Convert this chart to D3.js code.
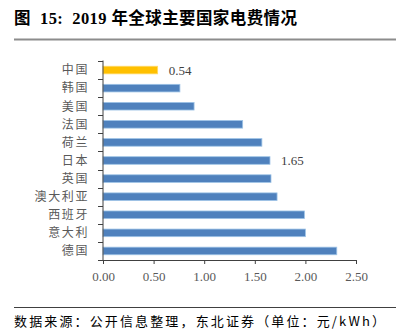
<!DOCTYPE html>
<html><head><meta charset="utf-8">
<script src="https://cdn.jsdelivr.net/npm/d3@7"></script>
<style>
body{margin:0;background:#fff;}
svg{display:block;}
</style></head><body>
<svg id="c" width="404" height="331"></svg>
<script>
const categories = ["中国","韩国","美国","法国","荷兰","日本","英国","澳大利亚","西班牙","意大利","德国"];
const values = [0.54,0.76,0.90,1.38,1.57,1.65,1.66,1.72,1.99,2.00,2.31];
const highlight = ["中国"];
const labelled = {"中国":"0.54","日本":"1.65"};
const xTicks = [0,0.5,1,1.5,2,2.5];
const title = "图  15:  2019 年全球主要国家电费情况";
const source = "数据来源：公开信息整理，东北证券（单位：元/kWh）";

const svg = d3.select("#c");
const pLeft = 103, pRight = 356, pTop = 61, pBottom = 260;
const x = d3.scaleLinear().domain([0,2.5]).range([pLeft,pRight]);
const y = d3.scaleBand().domain(categories).range([pTop,pBottom]).paddingInner(0.58).paddingOuter(0.29);

// title
svg.append("text").attr("x",14).attr("y",24)
  .attr("font-family","'Liberation Serif','Noto Sans CJK SC',serif")
  .attr("font-weight","bold").attr("font-size",16.5).attr("fill","#000")
  .attr("textLength",283).attr("lengthAdjust","spacing")
  .style("white-space","pre").text(title);
svg.append("line").attr("x1",14).attr("x2",396).attr("y1",39.5).attr("y2",39.5)
  .attr("stroke","#8c8c8c").attr("stroke-width",2);

// bars
svg.append("g").selectAll("rect").data(categories).join("rect")
  .attr("x",x(0)).attr("y",d=>y(d))
  .attr("width",(d,i)=>x(values[i])-x(0)).attr("height",y.bandwidth())
  .attr("fill",d=>highlight.includes(d)?"#FFC000":"#4F81BD")
  .attr("stroke",d=>highlight.includes(d)?"#FFD966":"#9DC3E6").attr("stroke-width",0.8);

// value labels
svg.append("g").selectAll("text").data(categories.filter(c=>labelled[c])).join("text")
  .attr("x",d=>x(values[categories.indexOf(d)])+11)
  .attr("y",d=>y(d)+y.bandwidth()/2)
  .attr("dy","0.35em")
  .attr("font-family","'Liberation Serif',serif").attr("font-size",13).attr("fill","#404040")
  .text(d=>labelled[d]);

// y axis
const yAxis = svg.append("g");
yAxis.append("line").attr("x1",pLeft).attr("x2",pLeft).attr("y1",pTop-0.5).attr("y2",pBottom)
  .attr("stroke","#404040").attr("stroke-width",1);
const bounds = d3.range(categories.length+1).map(i=>pTop + i*(pBottom-pTop)/categories.length);
yAxis.selectAll(".t").data(bounds).join("line")
  .attr("x1",pLeft-5).attr("x2",pLeft).attr("y1",d=>Math.round(d)+0.5).attr("y2",d=>Math.round(d)+0.5)
  .attr("stroke","#404040");
yAxis.selectAll("text").data(categories).join("text")
  .attr("x",pLeft-14).attr("y",d=>y(d)+y.bandwidth()/2).attr("dy","0.36em")
  .attr("text-anchor","end")
  .attr("font-family","'Noto Sans CJK SC',sans-serif").attr("font-size",12)
  .attr("letter-spacing","1.6px").attr("fill","#595959").text(d=>d);

// x axis
const xa = svg.append("g").attr("transform",`translate(0,${pBottom})`)
  .call(d3.axisBottom(x).tickValues(xTicks).tickFormat(d3.format(".2f")).tickSize(4).tickSizeOuter(0));
xa.select(".domain").attr("stroke","#404040");
xa.selectAll(".tick line").attr("stroke","#404040");
xa.selectAll(".tick text").attr("font-family","'Liberation Serif',serif").attr("font-size",13)
  .attr("fill","#595959").attr("y",12);

// footer
svg.append("line").attr("x1",14).attr("x2",396).attr("y1",307.5).attr("y2",307.5)
  .attr("stroke","#404040").attr("stroke-width",1);
svg.append("text").attr("x",14).attr("y",326)
  .attr("font-family","'Noto Sans CJK SC',sans-serif").attr("font-size",13).attr("fill","#000")
  .attr("textLength",371).attr("lengthAdjust","spacing").text(source);
</script></body></html>
